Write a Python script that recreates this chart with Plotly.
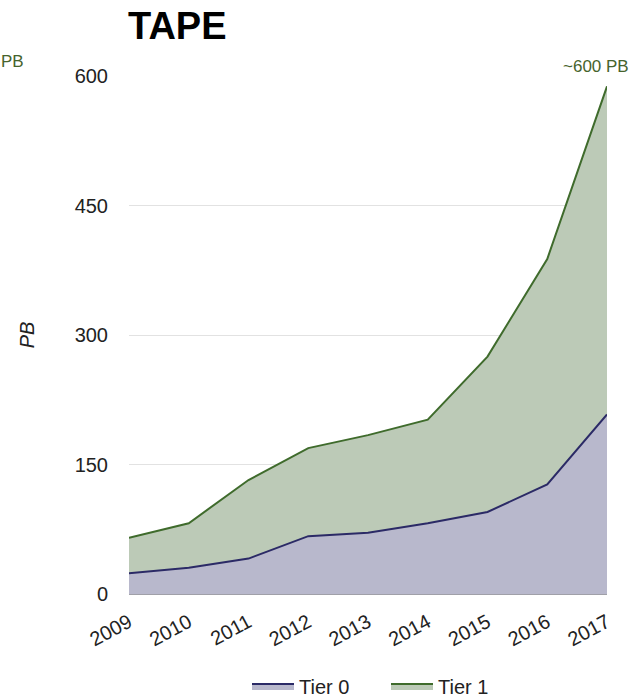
import plotly.graph_objects as go

years = [2009, 2010, 2011, 2012, 2013, 2014, 2015, 2016, 2017]
tier0 = [24, 30.5, 41, 67, 71, 82, 95, 127, 208]
tier1 = [41, 51.5, 91, 102, 113, 120, 180, 261, 380]
y_ticks = [0, 150, 300, 450, 600]

fig = go.Figure()
fig.add_trace(go.Scatter(
    x=years, y=tier0, name="Tier 0", stackgroup="tape", mode="lines",
    line=dict(color="#2b2a66", width=2), fillcolor="#b8b8cc",
))
fig.add_trace(go.Scatter(
    x=years, y=tier1, name="Tier 1", stackgroup="tape", mode="lines",
    line=dict(color="#3f6b2c", width=2), fillcolor="#bccab7",
))

fig.update_layout(
    width=635, height=698,
    margin=dict(l=129, r=28, t=76, b=104, autoexpand=False),
    paper_bgcolor="white", plot_bgcolor="white",
    font=dict(family="Liberation Sans, Arial, sans-serif", size=20, color="#222"),
    title=dict(text="<b>TAPE</b>", x=128 / 635, xanchor="left", y=1 - 26 / 698,
               yanchor="middle", font=dict(size=38, color="#000")),
    xaxis=dict(tickvals=years, tickangle=-28, range=[2009, 2017], showgrid=False,
               zeroline=False, ticks="", tickfont=dict(size=20), automargin=False,
               ticklabelstandoff=12),
    yaxis=dict(range=[0, 600], tickvals=y_ticks, gridcolor="#e2e2e2", zeroline=True,
               zerolinecolor="#a0a0a8", zerolinewidth=2, ticks="",
               ticklabelstandoff=20, automargin=False, tickfont=dict(size=20),
               title=dict(text="<i>PB</i>", font=dict(size=20), standoff=34)),
    legend=dict(orientation="h", xref="container", yref="container",
                x=247 / 635, xanchor="left", y=1 - 686 / 698, yanchor="middle",
                font=dict(size=20), traceorder="normal", itemwidth=42,
                entrywidth=82, entrywidthmode="pixels"),
    showlegend=True,
)
fig.add_annotation(text="~600 PB", xref="paper", yref="paper", x=(631 - 129) / 478,
                   y=(594 - 78) / 518, xanchor="right", yanchor="bottom", showarrow=False,
                   font=dict(size=17, color="#46632c"))
fig.add_annotation(text="PB", xref="paper", yref="paper", x=(-1 - 129) / 478,
                   y=(594 - 73) / 518, xanchor="left", yanchor="bottom", showarrow=False,
                   font=dict(size=17, color="#46632c"))

fig.write_html("out.html")
